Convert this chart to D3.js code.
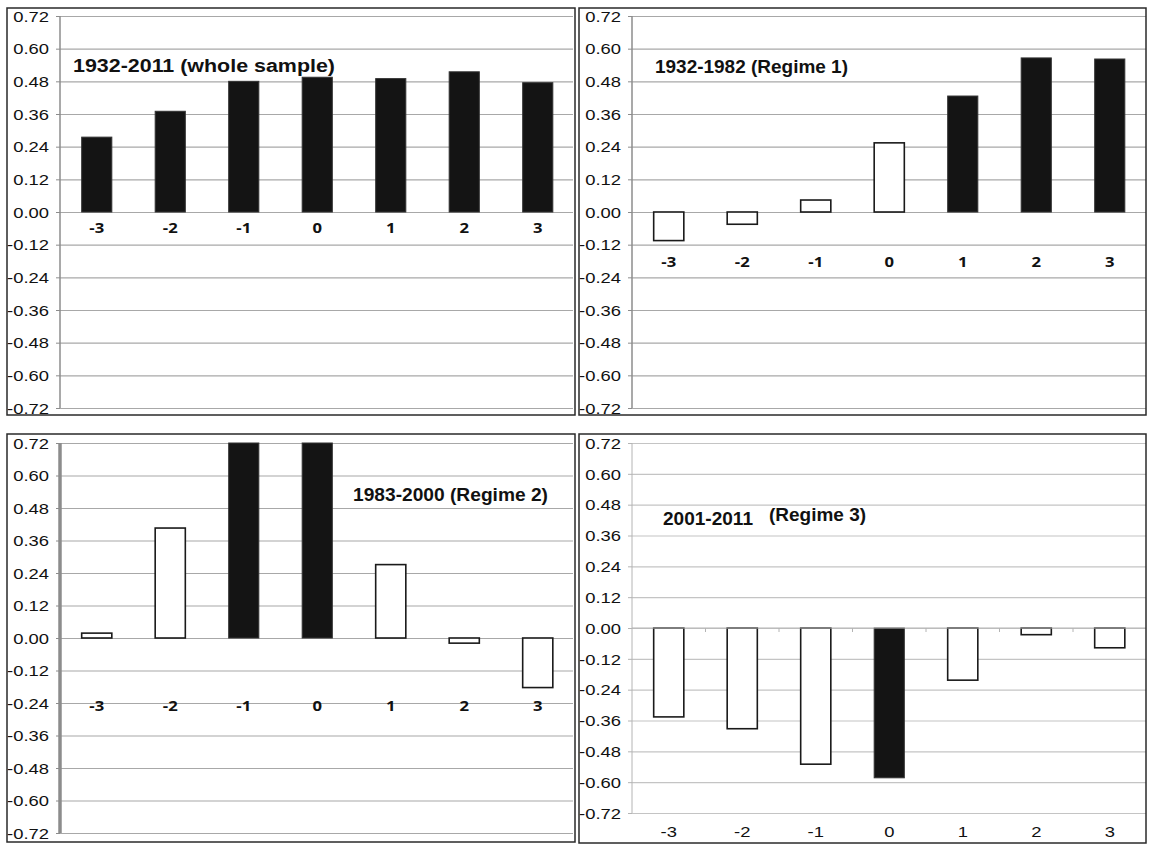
<!DOCTYPE html>
<html>
<head>
<meta charset="utf-8">
<script src="https://cdn.jsdelivr.net/npm/d3@7"></script>
<style>
  body { margin: 0; background: #fff; }
  svg { display: block; }
  text { font-family: Arial, "Liberation Sans", sans-serif; fill: #111; }
</style>
</head>
<body>
<svg width="1149" height="844"></svg>
<script>
// event-time lags shown on every panel
const lags = ['-3', '-2', '-1', '0', '1', '2', '3'];
const yTicks = [0.72, 0.60, 0.48, 0.36, 0.24, 0.12, 0, -0.12, -0.24, -0.36, -0.48, -0.60, -0.72];

// 1 = significant (solid bar), 0 = not significant (hollow bar)
const wholeSample    = [0.275, 0.370, 0.480, 0.495, 0.490, 0.515, 0.475];
const wholeSampleSig = [1, 1, 1, 1, 1, 1, 1];
const regime1    = [-0.105, -0.045, 0.044, 0.254, 0.426, 0.566, 0.562];
const regime1Sig = [0, 0, 0, 0, 1, 1, 1];
const regime2    = [0.018, 0.406, 0.80, 0.80, 0.271, -0.019, -0.183];   // -1 and 0 run off the top of the axis
const regime2Sig = [0, 0, 1, 1, 0, 0, 0];
const regime3    = [-0.346, -0.392, -0.530, -0.583, -0.203, -0.026, -0.077];
const regime3Sig = [0, 0, 0, 1, 0, 0, 0];

const titles = [
    ['1932-2011 (whole sample)'],
    ['1932-1982 (Regime 1)'],
    ['1983-2000 (Regime 2)'],
    ['2001-2011', '(Regime 3)']
];

const svg = d3.select('svg');

// layout of the four panels (positions only, values come from the arrays above)
const panels = [
    {values: wholeSample, sig: wholeSampleSig, title: titles[0],
     box: [7, 8, 568, 407], axisX: 60, yTop: 16, yBot: 408, gridRight: 573, labelY: 228,
     titlePos: [[73, 72, 262]], axisW: 1.5, axisC: '#8c8c8c', gridC: '#a8a8a8', bold: true},
    {values: regime1, sig: regime1Sig, title: titles[1],
     box: [579, 8, 567, 407], axisX: 632, yTop: 16, yBot: 408, gridRight: 1146, labelY: 262,
     titlePos: [[655, 73, 193]], axisW: 1.5, axisC: '#8c8c8c', gridC: '#a8a8a8', bold: true},
    {values: regime2, sig: regime2Sig, title: titles[2],
     box: [7, 434, 568, 408], axisX: 60, yTop: 443, yBot: 833, gridRight: 573, labelY: 706,
     titlePos: [[353, 501, 195]], axisW: 3.5, axisC: '#8c8c8c', gridC: '#a8a8a8', bold: true},
    {values: regime3, sig: regime3Sig, title: titles[3],
     box: [579, 434, 567, 409], axisX: 632, yTop: 443, yBot: 813, gridRight: 1146, labelY: 832,
     titlePos: [[663, 525, 90], [769, 521, 97]], axisW: 1, axisC: '#b4b4b4', gridC: '#c4c4c4', bold: false}
];

const sx = 1.27;   // the source picture is stretched horizontally

panels.forEach(p => {
    const g = svg.append('g');

    const y = d3.scaleLinear()
        .domain([-0.72, 0.72])
        .range([p.yBot, p.yTop])
        .clamp(true);

    const x = d3.scaleBand()
        .domain(lags)
        .range([p.axisX, p.axisX + 7 * 73.5])
        .paddingInner(0.59)
        .paddingOuter(0.295);

    // gridlines
    const grid = g.append('g')
        .attr('transform', `translate(${p.axisX},0)`)
        .call(d3.axisLeft(y).tickValues(yTicks).tickSize(-(p.gridRight - p.axisX)).tickFormat(''));
    grid.select('.domain').remove();
    grid.selectAll('line').attr('stroke', p.gridC).attr('stroke-width', 1.2);

    // y axis with labels
    const yAxisG = g.append('g')
        .attr('transform', `translate(${p.axisX},0)`)
        .call(d3.axisLeft(y).tickValues(yTicks).tickSize(4).tickFormat(d => d.toFixed(2)));
    yAxisG.select('.domain')
        .attr('stroke', p.axisC)
        .attr('stroke-width', p.axisW)
        .attr('d', `M0,${p.yTop}V${p.yBot}`);
    yAxisG.selectAll('.tick line').attr('stroke', p.axisC);
    yAxisG.selectAll('.tick text')
        .attr('x', -11 / sx)
        .attr('dy', '0.36em')
        .attr('transform', `scale(${sx},1)`)
        .style('font-size', '14.5px')
        .attr('fill', '#111');

    // bars
    g.selectAll('rect.bar')
        .data(p.values)
        .enter().append('rect')
            .attr('class', 'bar')
            .attr('x', (d, i) => x(lags[i]))
            .attr('width', x.bandwidth())
            .attr('y', d => Math.min(y(d), y(0)))
            .attr('height', d => Math.abs(y(d) - y(0)))
            .attr('fill', (d, i) => p.sig[i] ? '#141414' : '#fff')
            .attr('stroke', (d, i) => p.sig[i] ? '#333' : '#1a1a1a')
            .attr('stroke-width', (d, i) => p.sig[i] ? 1 : 1.6);

    // x axis for the last panel: line at zero with ticks between categories
    if (!p.bold) {
        g.append('line')
            .attr('x1', p.axisX).attr('x2', p.gridRight)
            .attr('y1', y(0)).attr('y2', y(0))
            .attr('stroke', p.axisC).attr('stroke-width', 1.2);
        g.selectAll('line.xtick')
            .data(lags.slice(1))
            .enter().append('line')
                .attr('class', 'xtick')
                .attr('x1', d => x(d) - x.step() * x.paddingInner() / 2)
                .attr('x2', d => x(d) - x.step() * x.paddingInner() / 2)
                .attr('y1', y(0)).attr('y2', y(0) + 4)
                .attr('stroke', p.axisC);
    }

    // category labels
    g.selectAll('text.lag')
        .data(lags)
        .enter().append('text')
            .attr('class', 'lag')
            .attr('transform', d => `translate(${x(d) + x.bandwidth() / 2},${p.labelY}) scale(${p.bold ? 1.15 : sx},1)`)
            .attr('text-anchor', 'middle')
            .attr('dy', '0.35em')
            .style('font-family', p.bold ? '"Open Sans", Arial, sans-serif' : 'Arial, "Liberation Sans", sans-serif')
            .style('font-weight', p.bold ? 700 : 400)
            .style('font-size', p.bold ? '14.5px' : '14.5px')
            .text(d => d);

    // panel title
    p.title.forEach((t, i) => {
        const [tx, ty, tw] = p.titlePos[i];
        g.append('text')
            .attr('x', tx)
            .attr('y', ty)
            .attr('textLength', tw)
            .attr('lengthAdjust', 'spacingAndGlyphs')
            .style('font-weight', 700)
            .style('font-size', '17.5px')
            .text(t);
    });

    // frame
    g.append('rect')
        .attr('x', p.box[0]).attr('y', p.box[1])
        .attr('width', p.box[2]).attr('height', p.box[3])
        .attr('fill', 'none')
        .attr('stroke', '#2a2a2a')
        .attr('stroke-width', 1.5);
});
</script>
</body>
</html>
